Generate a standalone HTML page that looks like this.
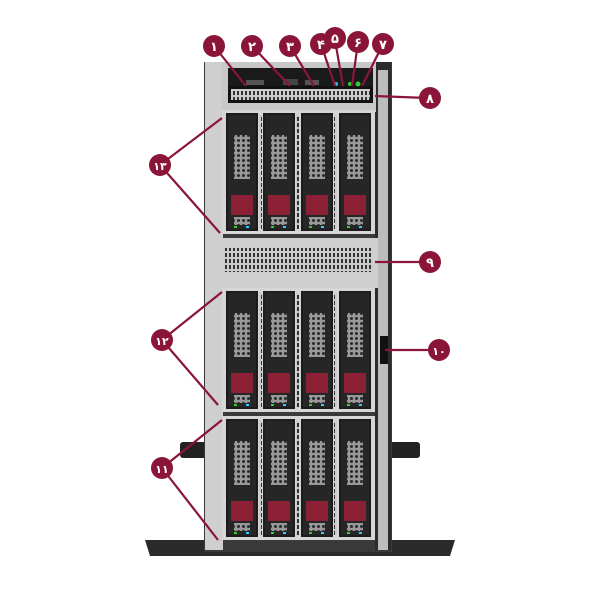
<!DOCTYPE html>
<html><head><meta charset="utf-8"><style>body{margin:0;background:#fff}svg{display:block}</style></head><body>
<svg width="600" height="600" viewBox="0 0 600 600" xmlns="http://www.w3.org/2000/svg">
<defs>
<pattern id="hex" width="5" height="5" patternUnits="userSpaceOnUse"><rect width="5" height="5" fill="#999"/><circle cx="2.5" cy="2.5" r="1.5" fill="#2a2a2a"/></pattern>
<pattern id="grill" width="4" height="6" patternUnits="userSpaceOnUse"><rect width="4" height="6" fill="#ccc"/><rect x="1" y="1" width="2" height="4" fill="#333"/></pattern>
<g id="drive">
<rect x="0" y="0" width="32" height="118" fill="#1c1c1c"/>
<rect x="2" y="2" width="28" height="114" fill="#262626"/>
<rect x="8" y="22" width="16" height="44" fill="url(#hex)"/>
<rect x="5" y="82" width="22" height="20" fill="#8b2035"/>
<rect x="8" y="104" width="16" height="8" fill="url(#hex)"/>
<rect x="8" y="113" width="3" height="2" fill="#3c3"/><rect x="20" y="113" width="3" height="2" fill="#3cf"/>
</g>
<g id="cage">
<rect x="222" y="0" width="153" height="124" fill="#d6d6d6"/>
<use href="#drive" x="226" y="3"/>
<rect x="259" y="5" width="3" height="114" fill="url(#grill)"/>
<use href="#drive" x="263" y="3"/>
<rect x="296" y="5" width="3" height="114" fill="url(#grill)"/>
<use href="#drive" x="301" y="3"/>
<rect x="334" y="5" width="3" height="114" fill="url(#grill)"/>
<use href="#drive" x="339" y="3"/>
</g>
</defs>
<rect x="180" y="442" width="240" height="16" rx="3" fill="#222"/>
<path d="M145 540 L455 540 L450 556 L150 556Z" fill="#2a2a2a"/>
<rect x="204" y="62" width="188" height="490" fill="#3a3a3a"/>
<rect x="205" y="62" width="18" height="488" fill="#cfcfcf"/>
<rect x="375" y="62" width="16" height="488" fill="#2c2c2c"/>
<rect x="378" y="70" width="10" height="480" fill="#bdbdbd"/>
<rect x="222" y="62" width="154" height="50" fill="#c8c8c8"/>
<rect x="228" y="68" width="145" height="18" fill="#1a1a1a"/>
<rect x="228" y="86" width="145" height="17" fill="#111"/>
<rect x="231" y="89" width="139" height="11" fill="url(#grill)"/>
<rect x="246" y="80" width="18" height="5" fill="#555"/>
<rect x="283" y="79" width="15" height="6" fill="#444"/>
<rect x="305" y="80" width="14" height="5" fill="#555"/>
<circle cx="336" cy="84" r="2" fill="#3bd"/><circle cx="350" cy="84" r="2" fill="#3c3"/><circle cx="358" cy="84" r="2.5" fill="#3c3"/>
<use href="#cage" x="0" y="110"/>
<rect x="208" y="238" width="170" height="50" fill="#cfcfcf"/>
<rect x="225" y="248" width="148" height="24" fill="url(#grill)"/>
<use href="#cage" x="0" y="288"/>
<use href="#cage" x="0" y="416"/>
<rect x="380" y="336" width="8" height="28" fill="#111"/>
<g stroke="#8a1538" stroke-width="2.2" fill="none">
<line x1="214" y1="46" x2="246" y2="86"/><line x1="252" y1="46" x2="290" y2="86"/><line x1="290" y1="46" x2="314" y2="86"/>
<line x1="321" y1="44" x2="335" y2="86"/><line x1="335" y1="40" x2="343" y2="86"/><line x1="358" y1="42" x2="352" y2="86"/>
<line x1="383" y1="44" x2="362" y2="86"/><line x1="428" y1="98" x2="375" y2="96"/>
<line x1="160" y1="165" x2="222" y2="118"/><line x1="160" y1="165" x2="220" y2="233"/>
<line x1="428" y1="262" x2="375" y2="262"/><line x1="437" y1="350" x2="385" y2="350"/>
<line x1="162" y1="340" x2="222" y2="292"/><line x1="162" y1="340" x2="218" y2="405"/>
<line x1="162" y1="468" x2="222" y2="420"/><line x1="162" y1="468" x2="218" y2="540"/>
</g>
<g fill="#8a1538">
<circle cx="214" cy="46" r="11"/><circle cx="252" cy="46" r="11"/><circle cx="290" cy="46" r="11"/><circle cx="321" cy="44" r="11"/>
<circle cx="335" cy="38" r="11"/><circle cx="358" cy="42" r="11"/><circle cx="383" cy="44" r="11"/><circle cx="430" cy="98" r="11"/>
<circle cx="160" cy="165" r="11"/><circle cx="430" cy="262" r="11"/><circle cx="439" cy="350" r="11"/><circle cx="162" cy="340" r="11"/><circle cx="162" cy="468" r="11"/>
</g>
<g fill="#fff" font-family="'DejaVu Sans',sans-serif" font-weight="bold" font-size="13" text-anchor="middle">
<text x="214" y="51">۱</text><text x="252" y="51">۲</text><text x="290" y="51">۳</text><text x="321" y="49">۴</text>
<text x="335" y="43">۵</text><text x="358" y="47">۶</text><text x="383" y="49">۷</text><text x="430" y="103">۸</text>
<text x="160" y="170" font-size="11">۱۳</text><text x="430" y="267">۹</text><text x="439" y="355" font-size="11">۱۰</text>
<text x="162" y="345" font-size="11">۱۲</text><text x="162" y="473" font-size="11">۱۱</text>
</g>
</svg>
</body></html>
